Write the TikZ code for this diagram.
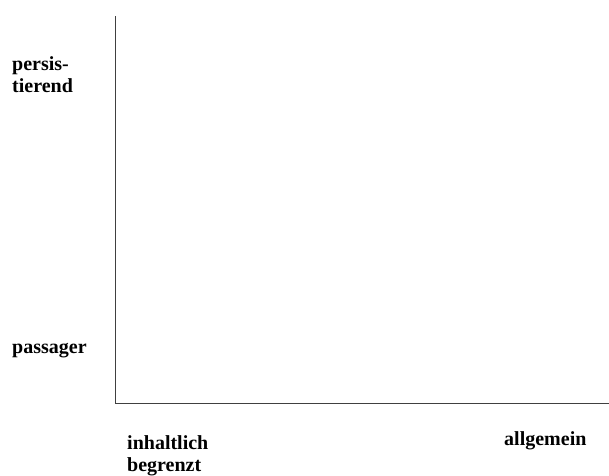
\documentclass[tikz,border=0pt]{standalone}
\usepackage{fontspec}
\setmainfont{Liberation Serif}
\usetikzlibrary{positioning}
\tikzset{axislabel/.style={font=\bfseries\fontsize{20}{22}\selectfont, align=left, inner sep=0pt}}
\tikzset{axisline/.style={draw=black!75, line width=1pt}}
\begin{document}
\begin{tikzpicture}[x=1pt,y=-1pt]
\useasboundingbox (0,0) rectangle (609,475);
\coordinate (top) at (115,16);
\coordinate (origin) at (115,403);
\coordinate (right) at (609,403);
\draw[axisline] (top) -- (origin) -- (right);
%Labels
\node [axislabel, anchor=north west] (persis) at (12,56) {persis-\\tierend};
\node [axislabel, anchor=base west] (passager) at (12,353) {passager};
\node [axislabel, anchor=north west] (inhalt) at (127,435) {inhaltlich\\begrenzt};
\node [axislabel, anchor=base west] (allg) at (504,445) {allgemein};
\end{tikzpicture}
\end{document}
